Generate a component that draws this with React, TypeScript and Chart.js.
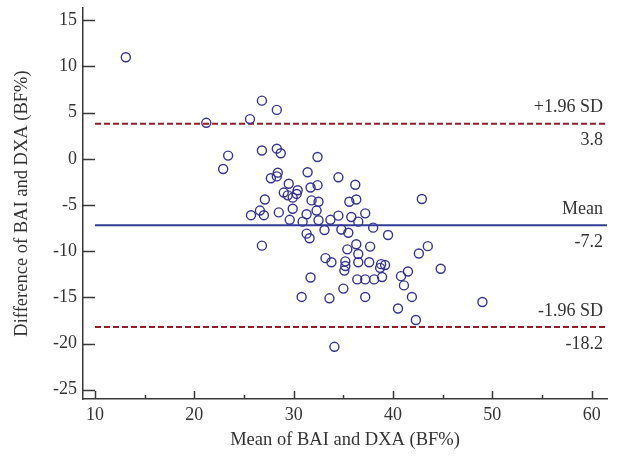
import React, { useEffect, useRef } from 'react';
import { Chart, registerables } from 'chart.js';

Chart.register(...registerables);

// Mean of BAI and DXA (BF%)
const meanBF = [
  13.1, 21.2, 26.8, 28.3, 25.6, 26.8, 28.3, 28.7, 23.4, 22.9,
  32.4, 31.4, 28.4, 27.7, 28.3, 29.5, 30.4, 29.0, 31.7, 32.4,
  29.9, 27.1, 31.8, 30.3, 29.4, 25.7, 26.6, 27.0, 28.5, 29.9,
  31.3, 32.3, 29.6, 30.9, 32.5, 31.3, 31.6, 26.8, 31.7, 30.8,
  34.5, 36.2, 32.5, 35.6, 36.3, 42.9, 33.7, 34.5, 35.8, 36.5,
  37.2, 33.1, 34.8, 35.5, 38.0, 39.5, 36.3, 35.4, 36.5, 37.7,
  43.5, 42.6, 33.2, 33.8, 35.2, 35.2, 35.1, 36.5, 37.6, 38.8,
  39.2, 38.7, 36.4, 37.2, 38.1, 38.9, 40.8, 41.5, 41.1, 44.8,
  33.6, 35.0, 37.2, 40.5, 41.9, 42.3, 34.1, 49.0,
];

// Difference of BAI and DXA (BF%)
const diffBF = [
  11.0, 3.9, 6.3, 5.3, 4.3, 0.9, 1.1, 0.6, 0.35, -1.1,
  0.2, -1.45, -1.5, -2.1, -1.9, -2.7, -3.4, -3.65, -3.1, -2.85,
  -4.2, -4.4, -4.5, -3.8, -3.95, -6.1, -5.6, -6.1, -5.8, -5.4,
  -6.0, -5.6, -6.6, -6.8, -6.65, -8.1, -8.6, -9.4, -12.85, -14.95,
  -2.0, -2.8, -4.65, -4.65, -4.4, -4.35, -6.6, -6.15, -6.3, -6.8,
  -5.9, -7.7, -7.65, -8.0, -7.45, -8.25, -9.25, -9.8, -10.3, -9.5,
  -9.45, -10.25, -10.75, -11.2, -11.1, -11.6, -12.1, -11.2, -11.2, -11.4,
  -11.5, -11.8, -13.05, -13.05, -13.05, -12.8, -12.7, -12.2, -13.7, -11.9,
  -15.1, -14.05, -14.95, -16.2, -14.95, -17.45, -20.35, -15.5,
];

const xMajorTicks = [10, 20, 30, 40, 50, 60];
const xMinorTicks = [15, 25, 35, 45, 55];
const yTicks = [-25, -20, -15, -10, -5, 0, 5, 10, 15];

const limitValues = [3.8, -7.2, -18.2];
const limitNames = ['+1.96 SD', 'Mean', '-1.96 SD'];
const limitLabels = ['3.8', '-7.2', '-18.2'];
const limitDashed = [true, false, true];

const FONT = '"Liberation Serif", "Times New Roman", serif';
const TEXT = '#333333';
const AXIS = '#383838';
const POINT = '#34348f';
const MEAN_COLOR = '#2f3d96';
const SD_COLOR = '#951c24';

const baPlugin = {
  id: 'blandAltman',
  beforeDatasetsDraw(chart: any) {
    const { ctx, scales, chartArea } = chart;
    const xs = scales.x;
    const ys = scales.y;
    const x0 = xs.getPixelForValue(10);
    const x1 = chartArea.right;
    ctx.save();
    limitValues.forEach((v, i) => {
      const y = ys.getPixelForValue(v);
      ctx.beginPath();
      ctx.lineWidth = 2;
      ctx.strokeStyle = limitDashed[i] ? SD_COLOR : MEAN_COLOR;
      ctx.setLineDash(limitDashed[i] ? [6, 3] : []);
      ctx.moveTo(x0, y);
      ctx.lineTo(x1, y);
      ctx.stroke();
      ctx.setLineDash([]);
      ctx.fillStyle = TEXT;
      ctx.font = '18px ' + FONT;
      ctx.textAlign = 'right';
      ctx.textBaseline = 'middle';
      ctx.fillText(limitNames[i], x1 - 4, y - 16);
      ctx.fillText(limitLabels[i], x1 - 4, y + 17);
    });
    ctx.restore();
  },
  afterDraw(chart: any) {
    const { ctx, scales, chartArea } = chart;
    const xs = scales.x;
    const ys = scales.y;
    ctx.save();
    ctx.strokeStyle = AXIS;
    ctx.lineWidth = 1.5;
    ctx.beginPath();
    yTicks.forEach((v) => {
      const y = Math.round(ys.getPixelForValue(v)) + 0.5;
      ctx.moveTo(chartArea.left, y);
      ctx.lineTo(chartArea.left + 12, y);
    });
    xMajorTicks.forEach((v) => {
      const x = Math.round(xs.getPixelForValue(v)) + 0.5;
      ctx.moveTo(x, chartArea.bottom);
      ctx.lineTo(x, chartArea.bottom - 8);
    });
    xMinorTicks.forEach((v) => {
      const x = Math.round(xs.getPixelForValue(v)) + 0.5;
      ctx.moveTo(x, chartArea.bottom);
      ctx.lineTo(x, chartArea.bottom - 4);
    });
    ctx.stroke();
    ctx.restore();
  },
};

export default function App() {
  const ref = useRef<HTMLCanvasElement | null>(null);

  useEffect(() => {
    document.body.style.margin = '0';
    const canvas = ref.current;
    if (!canvas) return;
    const points = meanBF.map((x, i) => ({ x, y: diffBF[i] }));
    const chart = new Chart(canvas, {
      type: 'scatter',
      data: {
        datasets: [
          {
            data: points,
            pointStyle: 'circle',
            pointRadius: 4.5,
            pointBorderWidth: 1.4,
            borderColor: POINT,
            backgroundColor: 'rgba(255,255,255,0)',
            pointBackgroundColor: 'rgba(255,255,255,0)',
            pointBorderColor: POINT,
          },
        ],
      },
      options: {
        animation: false,
        responsive: false,
        devicePixelRatio: 1,
        layout: { padding: { top: 8, right: 11, left: 0, bottom: 0 } },
        plugins: { legend: { display: false }, tooltip: { enabled: false } },
        scales: {
          x: {
            type: 'linear',
            min: 8.79,
            max: 61.54,
            afterBuildTicks: (scale: any) => {
              scale.ticks = xMajorTicks.map((v) => ({ value: v }));
            },
            afterFit: (scale: any) => {
              scale.height = 60;
              scale.paddingLeft = 0;
              scale.paddingRight = 0;
            },
            grid: { display: false, drawTicks: false },
            border: { display: true, color: AXIS, width: 1.5 },
            ticks: {
              padding: 5,
              color: TEXT,
              font: { family: FONT, size: 18 },
              maxRotation: 0,
              autoSkip: false,
            },
            title: {
              display: true,
              text: 'Mean of BAI and DXA (BF%)',
              color: TEXT,
              font: { family: FONT, size: 18.5 },
              padding: { top: 0, bottom: 8 },
            },
          },
          y: {
            type: 'linear',
            min: -26.0,
            max: 16.33,
            afterBuildTicks: (scale: any) => {
              scale.ticks = yTicks.map((v) => ({ value: v }));
            },
            afterFit: (scale: any) => {
              scale.width = 83;
              scale.paddingTop = 0;
              scale.paddingBottom = 0;
            },
            grid: { display: false, drawTicks: false },
            border: { display: true, color: AXIS, width: 1.5 },
            ticks: {
              padding: 6,
              color: TEXT,
              font: { family: FONT, size: 18 },
              autoSkip: false,
            },
            title: {
              display: true,
              text: 'Difference of BAI and DXA (BF%)',
              color: TEXT,
              font: { family: FONT, size: 18.5 },
              padding: { top: 11, bottom: 0 },
            },
          },
        },
      },
      plugins: [baPlugin],
    });
    return () => chart.destroy();
  }, []);

  return <canvas ref={ref} width={618} height={459} style={{ display: 'block' }} />;
}
